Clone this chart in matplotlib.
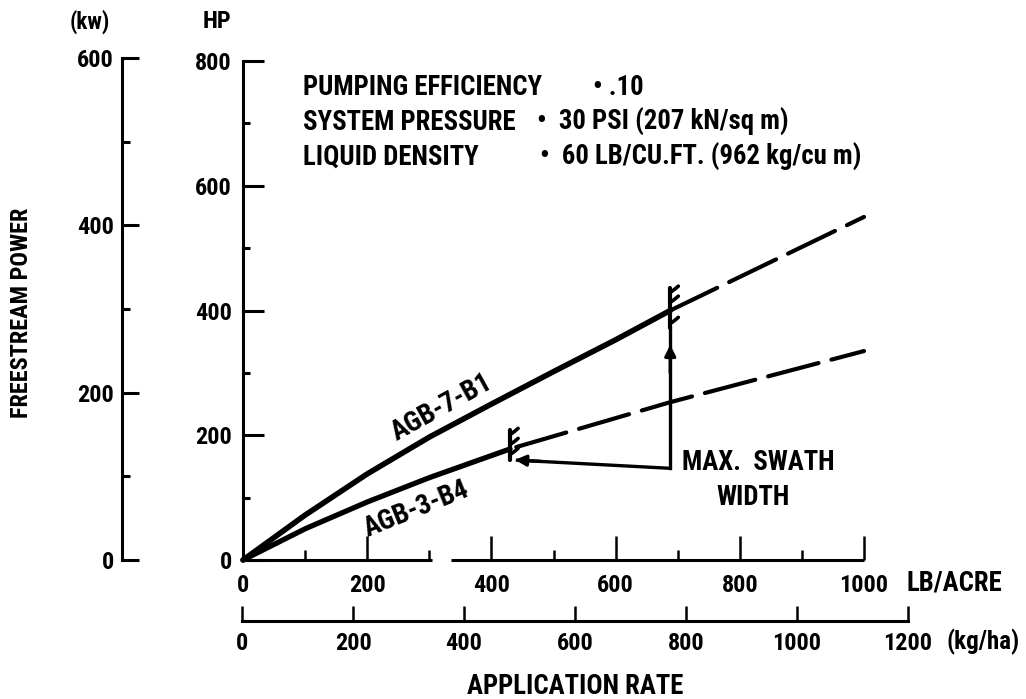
import matplotlib
matplotlib.use("Agg")
import matplotlib.pyplot as plt
from matplotlib.ticker import FixedLocator

plt.rcParams['font.family'] = ['Roboto Condensed', 'Barlow Semi Condensed', 'Archivo Narrow',
                               'DejaVu Sans']
plt.rcParams['font.weight'] = 'bold'

# ---------------- data ----------------
# AGB-7-B1 (solid up to max swath width, dashed beyond)
agb7_solid_x = [0, 100, 200, 300, 400, 500, 600, 688]
agb7_solid_hp = [0, 72, 138, 197, 250, 302, 353, 400]
agb7_dash_x = [688, 1000]
agb7_dash_hp = [400, 550]
# AGB-3-B4
agb3_solid_x = [0, 100, 200, 300, 430]
agb3_solid_hp = [0, 50, 93, 132, 178]
agb3_dash_x = [440, 688, 1000]
agb3_dash_hp = [181, 253, 335]
# max swath width points (lb/acre)
swath_x = [430, 688]
swath_hp = [180, 400]

hp_ticks = [0, 200, 400, 600, 800]
hp_minor = [100, 300, 500, 700]
kw_ticks = [0, 200, 400, 600]
kw_minor = [100, 300, 500]
lb_ticks = [0, 200, 400, 600, 800, 1000]
lb_minor = [100, 300, 500, 700, 900]
kg_ticks = [0, 200, 400, 600, 800, 1000, 1200]

W, H = 1026, 699
fig = plt.figure(figsize=(W / 100, H / 100), dpi=100)


def fx(px):
    return px / W


def fy(py):
    return 1 - py / H


LW_AX = 2.2
black = 'black'
NS = 17.5    # number size
TS = 19.3    # text size

# ---------------- main axes (HP vs LB/ACRE) ----------------
x0, x1 = 243, 864
y0, y1 = 560, 61
ax = fig.add_axes([fx(x0), fy(y0), fx(x1) - fx(x0), fy(y1) - fy(y0)])
ax.set_xlim(0, 1000)
ax.set_ylim(0, 800)
for s in ['top', 'right', 'bottom']:
    ax.spines[s].set_visible(False)
ax.spines['left'].set_linewidth(LW_AX)
ax.yaxis.set_major_locator(FixedLocator(hp_ticks))
ax.yaxis.set_minor_locator(FixedLocator(hp_minor))
ax.xaxis.set_major_locator(FixedLocator(lb_ticks))
ax.xaxis.set_minor_locator(FixedLocator(lb_minor))
ax.tick_params(axis='y', which='major', direction='in', length=15, width=LW_AX,
               pad=8, labelsize=NS)
ax.tick_params(axis='y', which='minor', direction='in', length=5, width=LW_AX)
ax.tick_params(axis='x', which='major', direction='in', length=17, width=1.8,
               pad=10, labelsize=NS)
ax.tick_params(axis='x', which='minor', direction='in', length=7, width=1.8)
ax.set_yticklabels([str(v) for v in hp_ticks], fontweight='bold')
ax.set_xticklabels([str(v) for v in lb_ticks], fontweight='bold')
ax.patch.set_alpha(0)

# bottom axis line with a gap
ax.plot([0, 305], [0, 0], color=black, lw=LW_AX, clip_on=False, solid_capstyle='butt')
ax.plot([335, 1000], [0, 0], color=black, lw=LW_AX, clip_on=False, solid_capstyle='butt')

# curves
ax.plot(agb7_solid_x, agb7_solid_hp, color=black, lw=4.0, solid_capstyle='round',
        solid_joinstyle='round', clip_on=False)
ax.plot(agb3_solid_x, agb3_solid_hp, color=black, lw=3.8, solid_capstyle='round',
        solid_joinstyle='round', clip_on=False)
ax.plot(agb7_dash_x, agb7_dash_hp, color=black, lw=3.0, dashes=(12.5, 3.2),
        dash_capstyle='round', clip_on=False)
ax.plot(agb3_dash_x, agb3_dash_hp, color=black, lw=3.0, dashes=(12.5, 3.2),
        dash_capstyle='round', clip_on=False)


# "E"-shaped swath-limit markers
def swath_marker(xc, hc, span_lo, span_hi, hooks):
    ax.plot([xc, xc], [hc - span_lo, hc + span_hi], color=black, lw=3.0,
            solid_capstyle='round', clip_on=False)
    for dh in hooks:
        ax.plot([xc, xc + 7, xc + 13], [hc + dh - 3, hc + dh + 2, hc + dh + 7],
                color=black, lw=2.6, solid_capstyle='round', clip_on=False)


swath_marker(swath_x[1], swath_hp[1], 28, 36, [32, 16, -18])
swath_marker(swath_x[0], swath_hp[0], 20, 28, [24, 8, -8])

# MAX. SWATH WIDTH arrows
corner_hp = 147
ax.plot([swath_x[1], swath_x[1]], [corner_hp, swath_hp[1] - 28], color=black,
        lw=2.4, clip_on=False)
ax.annotate('', xy=(swath_x[1], 345), xytext=(swath_x[1], 300),
            arrowprops=dict(arrowstyle='-|>', color=black, lw=2.4,
                            mutation_scale=16, shrinkA=0, shrinkB=0))
ax.plot([swath_x[1], swath_x[0] + 12], [corner_hp, 160], color=black, lw=2.4,
        clip_on=False)
ax.annotate('', xy=(swath_x[0] + 8, 160.5), xytext=(swath_x[0] + 50, 158),
            arrowprops=dict(arrowstyle='-|>', color=black, lw=2.4,
                            mutation_scale=16, shrinkA=0, shrinkB=0))

# text annotations
ax.text(707, 157, 'MAX.  SWATH', fontsize=TS, fontweight='bold', ha='left', va='center')
ax.text(763, 101, 'WIDTH', fontsize=TS, fontweight='bold', ha='left', va='center')
ax.text(320, 244, 'AGB-7-B1', fontsize=TS + 0.5, fontweight='bold', ha='center', va='center',
        rotation=29, rotation_mode='anchor')
ax.text(279, 82, 'AGB-3-B4', fontsize=TS + 0.5, fontweight='bold', ha='center', va='center',
        rotation=22, rotation_mode='anchor')

ax.text(97, 758, 'PUMPING EFFICIENCY', fontsize=TS, fontweight='bold', ha='left', va='center')
ax.text(564, 758, '\u2022 .10', fontsize=TS, fontweight='bold', ha='left', va='center')
ax.text(97, 702, 'SYSTEM PRESSURE', fontsize=TS, fontweight='bold', ha='left', va='center')
ax.text(474, 702, '\u2022  30 PSI (207 kN/sq m)', fontsize=TS, fontweight='bold',
        ha='left', va='center')
ax.text(97, 646, 'LIQUID DENSITY', fontsize=TS, fontweight='bold', ha='left', va='center')
ax.text(478, 646, '\u2022  60 LB/CU.FT. (962 kg/cu m)', fontsize=TS, fontweight='bold',
        ha='left', va='center')

# ---------------- kW axis ----------------
kw_top = 560 - 600 / 0.7457 * 0.624
axk = fig.add_axes([fx(122), fy(560), 0.001, fy(kw_top) - fy(560)])
axk.set_ylim(0, 600)
axk.set_xlim(0, 1)
for s in ['top', 'right', 'bottom']:
    axk.spines[s].set_visible(False)
axk.spines['left'].set_linewidth(LW_AX)
axk.set_xticks([])
axk.yaxis.set_major_locator(FixedLocator(kw_ticks))
axk.yaxis.set_minor_locator(FixedLocator(kw_minor))
axk.tick_params(axis='y', which='major', direction='in', length=12, width=LW_AX,
                pad=6, labelsize=NS)
axk.tick_params(axis='y', which='minor', direction='in', length=6, width=LW_AX)
axk.set_yticklabels([str(v) for v in kw_ticks], fontweight='bold')
axk.patch.set_alpha(0)

# ---------------- kg/ha axis ----------------
axg = fig.add_axes([fx(242), fy(621), fx(908) - fx(242), 0.001])
axg.set_xlim(0, 1200)
axg.set_ylim(0, 1)
for s in ['top', 'right', 'left']:
    axg.spines[s].set_visible(False)
axg.spines['bottom'].set_linewidth(LW_AX)
axg.set_yticks([])
axg.xaxis.set_major_locator(FixedLocator(kg_ticks))
axg.tick_params(axis='x', which='major', direction='in', length=11, width=1.8,
                pad=8, labelsize=NS)
axg.set_xticklabels([str(v) for v in kg_ticks], fontweight='bold')
axg.patch.set_alpha(0)

# ---------------- axis titles ----------------
fig.text(fx(90), fy(22), '(kw)', fontsize=16.5, fontweight='bold', ha='center', va='center')
fig.text(fx(217), fy(22), 'HP', fontsize=17.5, fontweight='bold', ha='center', va='center')
fig.text(fx(907), fy(583), 'LB/ACRE', fontsize=TS, fontweight='bold', ha='left', va='center')
fig.text(fx(1020), fy(642), '(kg/ha)', fontsize=18, fontweight='bold', ha='right', va='center')
fig.text(fx(575), fy(687), 'APPLICATION RATE', fontsize=TS, fontweight='bold',
         ha='center', va='center')
fig.text(fx(22), fy(313), 'FREESTREAM POWER', fontsize=17.5, fontweight='bold',
         ha='center', va='center', rotation=90)

fig.savefig('out.png', dpi=100, facecolor='white')
